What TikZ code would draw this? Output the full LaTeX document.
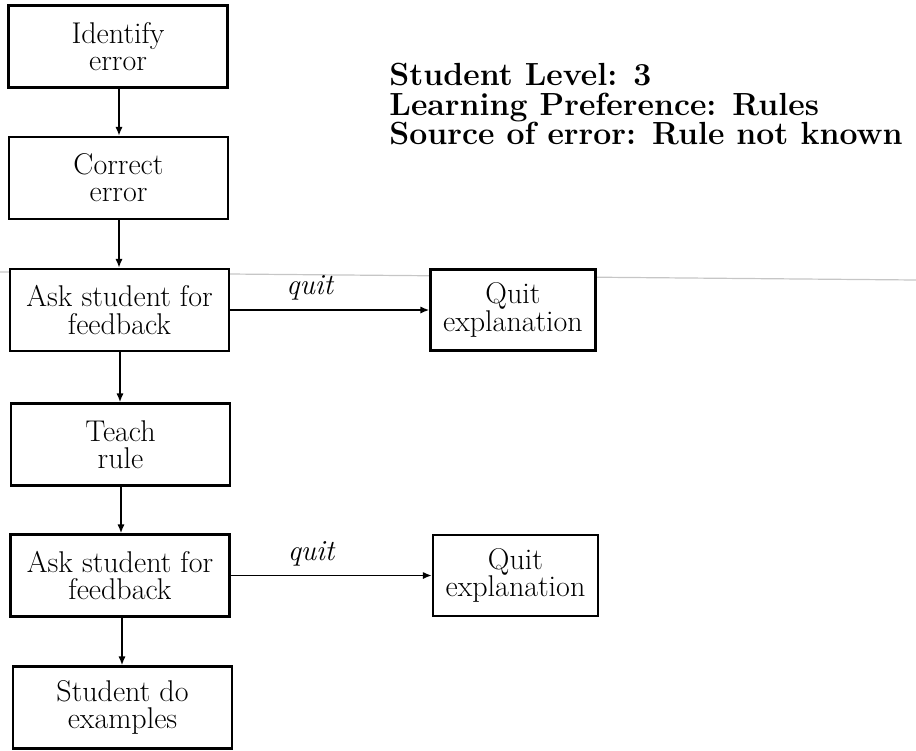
\documentclass[tikz,border=0pt]{standalone}
\usetikzlibrary{arrows.meta}
\begin{document}
\begin{tikzpicture}[x=0.5pt,y=-0.5pt,
  stepbox/.style={draw, line width=1.1pt, fill=white, align=center,
    inner sep=0pt, font=\fontsize{15}{13.6}\selectfont},
  mainbox/.style={stepbox, minimum width=109.5pt, minimum height=41pt},
  quitbox/.style={stepbox, minimum width=82.5pt, minimum height=40.5pt},
  flow/.style={line width=0.9pt, -{Latex[length=4.5pt,width=3.6pt]}},
  edgelabel/.style={font=\fontsize{14.6}{14.6}\selectfont\itshape, inner sep=0pt}
]
\useasboundingbox (0,0) rectangle (916,750);

% faint rule running across the page behind the chart
\coordinate (ruleL) at (0,272);
\coordinate (ruleR) at (916,280);
\draw[gray!45, line width=0.6pt] (ruleL) -- (ruleR);

% main column
\node[mainbox] (identify) at (118,46.5)  {Identify\\error};
\node[mainbox] (correct)  at (118.5,178) {Correct\\error};
\node[mainbox] (ask1)     at (119.5,310) {Ask student for\\feedback};
\node[mainbox] (teach)    at (120.5,444.5) {Teach\\rule};
\node[mainbox] (ask2)     at (120,575.5) {Ask student for\\feedback};
\node[mainbox] (examples) at (122.5,707.5) {Student do\\examples};

% side exits
\node[quitbox] (quit1) at (513,310)   {Quit\\explanation};
\node[quitbox] (quit2) at (515.5,575.5) {Quit\\explanation};

% status text
\node[anchor=north west, align=left, inner sep=0pt,
      font=\fontsize{16}{14.8}\selectfont\bfseries] (info) at (389,63)
  {Student Level: 3\\Learning Preference: Rules\\Source of error: Rule not known};

% connectors
\draw[flow] (identify.south -| 119,0) -- (correct.north -| 119,0);
\draw[flow] (correct.south -| 119,0) -- (ask1.north -| 119,0);
\draw[flow] (ask1.south -| 120,0) -- (teach.north -| 120,0);
\draw[flow] (teach.south -| 121,0) -- (ask2.north -| 121,0);
\draw[flow] (ask2.south -| 122,0) -- (examples.north -| 122,0);

\draw[flow] (ask1.east) -- node[edgelabel, pos=0.40, above=4.5pt] {quit} (quit1.west);
\draw[flow] (ask2.east) -- node[edgelabel, pos=0.40, above=4pt] {quit} (quit2.west);
\end{tikzpicture}
\end{document}
